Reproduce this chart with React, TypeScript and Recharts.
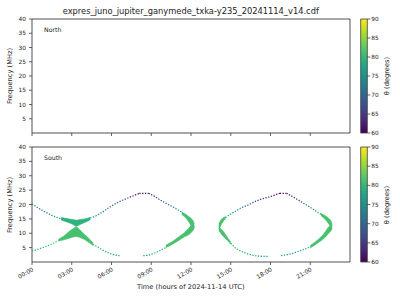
import React from 'react';
import { ComposedChart, Line, Area, XAxis, YAxis, ReferenceArea } from 'recharts';

const FONT = '"DejaVu Sans", sans-serif';
const INK = '#222222';
const EDGE = '#3c3c3c';

const title = 'expres_juno_jupiter_ganymede_txka-y235_20241114_v14.cdf';
const hourTicks = [0, 3, 6, 9, 12, 15, 18, 21];
const hourRange = [0, 24];
const freqRange = [0, 40];
const freqTicks = [5, 10, 15, 20, 25, 30, 35, 40];
const thetaRange = [60, 90];
const thetaTicks = [60, 65, 70, 75, 80, 85, 90];
const viridis = ['#440154', '#482475', '#414487', '#355f8d', '#2a788e', '#21918c', '#22a884', '#44bf70', '#7ad151', '#bddf26', '#fde725'];

// thin dotted tracks, [hour, MHz], and theta (deg) along each one
const upperLeft = [[0, 20.2], [0.5, 18.7], [1.0, 17.4], [1.5, 16.2], [2.0, 15.3], [2.2, 15.0]];
const upperLeftTh = [71, 74, 77];
const upperRise = [[4.4, 15.3], [4.8, 16.0], [5.3, 17.3], [5.8, 18.9], [6.3, 20.3], [6.8, 21.4], [7.3, 22.4], [7.7, 23.1], [8.1, 23.9]];
const upperRiseTh = [77, 72.5, 67.5, 61];
const peak1 = [[8.1, 23.9], [8.8, 23.9]];
const peak1Th = [60.5];
const upperFall = [[8.8, 23.9], [9.2, 23.0], [9.7, 21.5], [10.2, 20.2], [10.7, 19.0], [11.1, 17.9], [11.4, 16.9]];
const upperFallTh = [61, 67, 72, 77];
const lowerLeft = [[0, 3.8], [0.5, 4.5], [1.0, 5.3], [1.5, 6.3], [2.0, 7.5]];
const lowerLeftTh = [79, 81];
const lowerDrop = [[4.6, 6.2], [5.0, 5.1], [5.4, 4.0], [5.8, 3.1], [6.2, 2.5], [6.6, 2.2]];
const lowerDropTh = [81, 78, 76];
const lowerRise = [[8.4, 2.2], [8.8, 2.4], [9.2, 3.0], [9.6, 3.8], [10.1, 5.0]];
const lowerRiseTh = [76, 78, 80];

const rUpperRise = [[14.6, 15.4], [14.8, 16.1], [15.3, 17.5], [15.8, 18.9], [16.3, 19.8], [16.8, 21.0], [17.3, 21.9], [17.8, 22.5], [18.1, 22.9], [18.45, 23.5], [18.7, 23.9]];
const rUpperRiseTh = [77, 72, 64, 60.5];
const peak2 = [[18.7, 23.9], [19.2, 23.9]];
const peak2Th = [60];
const rUpperFall = [[19.2, 23.9], [19.45, 23.3], [19.8, 22.4], [20.3, 21.0], [20.8, 19.6], [21.3, 18.1], [21.8, 16.6]];
const rUpperFallTh = [61, 66, 72, 77];
const rLowerDrop = [[15.0, 6.5], [15.4, 4.6], [15.8, 3.7], [16.2, 2.9], [16.7, 2.3], [17.2, 2.0], [17.9, 1.9]];
const rLowerDropTh = [81, 78, 76];
const rLowerRise = [[18.8, 2.2], [19.2, 2.5], [19.6, 2.9], [20.1, 3.7], [20.6, 4.5], [21.0, 5.3]];
const rLowerRiseTh = [76, 78, 80];

// dense emission, [hour, low MHz, high MHz]
const xUpperBand = [[2.2, 14.6, 15.5], [2.6, 14.0, 15.1], [3.0, 13.3, 14.8], [3.35, 12.4, 14.5], [3.7, 13.2, 14.8], [4.0, 13.8, 15.0], [4.4, 14.7, 15.5]];
const xLowerBand = [[2.0, 7.3, 7.9], [2.4, 7.7, 9.0], [2.8, 8.3, 10.6], [3.1, 8.7, 11.6], [3.35, 8.9, 12.3], [3.6, 8.6, 11.2], [3.9, 8.0, 9.8], [4.2, 7.1, 8.6], [4.6, 5.8, 6.7]];
const lTipUpper = [[11.3, 16.6, 17.3], [11.6, 15.4, 16.6], [11.8, 14.2, 15.9], [12.0, 12.8, 15.2], [12.15, 12.0, 14.4], [12.25, 12.0, 13.3]];
const lTipLower = [[10.1, 5.0, 5.8], [10.6, 6.2, 7.1], [11.1, 7.6, 8.8], [11.5, 8.8, 10.2], [11.8, 9.4, 11.6], [12.0, 10.2, 12.8], [12.15, 11.0, 12.6], [12.25, 11.8, 12.6]];
const rTipLeftUpper = [[14.1, 11.6, 13.4], [14.2, 12.2, 14.2], [14.3, 13.2, 14.9], [14.45, 14.3, 15.4], [14.6, 15.0, 15.8]];
const rTipLeftLower = [[14.1, 10.9, 12.6], [14.2, 10.4, 11.8], [14.3, 9.6, 11.2], [14.45, 8.9, 10.6], [14.6, 8.2, 9.6], [14.8, 7.3, 8.2], [15.0, 6.2, 6.9]];
const rTipRightUpper = [[21.8, 16.2, 16.9], [22.1, 15.0, 16.2], [22.35, 13.6, 15.4], [22.55, 12.2, 14.4], [22.65, 11.8, 13.0]];
const rTipRightLower = [[21.0, 4.9, 5.7], [21.35, 5.9, 6.9], [21.6, 6.7, 7.8], [21.9, 7.7, 9.1], [22.15, 8.7, 10.6], [22.35, 9.8, 12.0], [22.55, 10.8, 12.8], [22.65, 11.6, 12.6]];

const BAND = '#48c16e';
const BAND_TEAL = '#2db27d';

const tracks = [
  { id: 'ul', pts: upperLeft, th: upperLeftTh },
  { id: 'ur', pts: upperRise, th: upperRiseTh },
  { id: 'p1', pts: peak1, th: peak1Th },
  { id: 'uf', pts: upperFall, th: upperFallTh },
  { id: 'll', pts: lowerLeft, th: lowerLeftTh },
  { id: 'ld', pts: lowerDrop, th: lowerDropTh },
  { id: 'lr', pts: lowerRise, th: lowerRiseTh },
  { id: 'rur', pts: rUpperRise, th: rUpperRiseTh },
  { id: 'p2', pts: peak2, th: peak2Th },
  { id: 'ruf', pts: rUpperFall, th: rUpperFallTh },
  { id: 'rld', pts: rLowerDrop, th: rLowerDropTh },
  { id: 'rlr', pts: rLowerRise, th: rLowerRiseTh },
];

const bands = [
  { id: 'xu', pts: xUpperBand, color: BAND_TEAL },
  { id: 'xl', pts: xLowerBand, color: BAND },
  { id: 'ltu', pts: lTipUpper, color: BAND },
  { id: 'ltl', pts: lTipLower, color: BAND },
  { id: 'rlu', pts: rTipLeftUpper, color: BAND },
  { id: 'rll', pts: rTipLeftLower, color: BAND },
  { id: 'rru', pts: rTipRightUpper, color: BAND },
  { id: 'rrl', pts: rTipRightLower, color: BAND },
];

function hexRgb(h: string) {
  return [1, 3, 5].map((i) => parseInt(h.slice(i, i + 2), 16));
}

function thetaColor(th: number) {
  const p = Math.min(1, Math.max(0, (th - 60) / 30)) * 10;
  const i = Math.min(9, Math.floor(p));
  const f = p - i;
  const a = hexRgb(viridis[i]);
  const b = hexRgb(viridis[i + 1]);
  const c = a.map((v, k) => Math.round(v + (b[k] - v) * f));
  return `rgb(${c[0]},${c[1]},${c[2]})`;
}

const tickStyle = { fontSize: 5.8, fill: INK, fontFamily: FONT };
const tickLine = { stroke: EDGE, strokeWidth: 0.8 };

// axis extents only, so the charts lay out their axes even with no marks
const panelExtent = hourRange.map((t, i) => ({ t, f: freqRange[i] }));
const barExtent = thetaRange.map((v, i) => ({ x: i, v }));

function Panel({ top, height, mt, xh, labels, children }: any) {
  return (
    <div style={{ position: 'absolute', left: 0, top }}>
      <ComposedChart width={360} height={height} data={panelExtent} margin={{ top: mt, right: 10, bottom: 0, left: 0 }}>
        {children}
        <XAxis
          dataKey="t"
          type="number"
          domain={hourRange}
          ticks={hourTicks}
          interval={0}
          height={xh}
          axisLine={false}
          tickLine={tickLine}
          tickSize={3}
          tickMargin={2}
          angle={-30}
          tick={{ ...tickStyle, textAnchor: 'end' }}
          tickFormatter={(v: number) => (labels ? `${String(v).padStart(2, '0')}:00` : '')}
        />
        <YAxis
          dataKey="f"
          type="number"
          domain={freqRange}
          ticks={freqTicks}
          interval={0}
          width={32}
          axisLine={false}
          tickLine={tickLine}
          tickSize={3}
          tickMargin={3}
          tick={tickStyle}
        />
        <ReferenceArea x1={0} x2={24} y1={0} y2={40} fill="none" stroke={EDGE} strokeWidth={0.9} ifOverflow="visible" />
      </ComposedChart>
    </div>
  );
}

function ColorBar({ top, height, mt, mb, id }: any) {
  return (
    <div style={{ position: 'absolute', left: 355, top }}>
      <ComposedChart width={45} height={height} data={barExtent} margin={{ top: mt, right: 0, bottom: mb, left: 5.7 }}>
        <defs>
          <linearGradient id={id} x1="0" y1="1" x2="0" y2="0">
            {viridis.map((c, i) => (
              <stop key={i} offset={i / 10} stopColor={c} />
            ))}
          </linearGradient>
        </defs>
        <XAxis type="number" dataKey="x" domain={[0, 1]} hide />
        <YAxis
          dataKey="v"
          orientation="right"
          type="number"
          domain={thetaRange}
          ticks={thetaTicks}
          interval={0}
          width={32.7}
          axisLine={false}
          tickLine={tickLine}
          tickSize={3}
          tickMargin={1}
          tick={tickStyle}
        />
        <ReferenceArea x1={0} x2={1} y1={60} y2={90} fill={`url(#${id})`} fillOpacity={1} stroke={EDGE} strokeWidth={0.8} ifOverflow="visible" />
      </ComposedChart>
    </div>
  );
}

const textBase: React.CSSProperties = { position: 'absolute', fontFamily: FONT, color: INK, whiteSpace: 'nowrap' };

function Rotated({ x, y, text }: any) {
  return (
    <div style={{ ...textBase, left: x, top: y, fontSize: 6.7, lineHeight: '8px', transform: 'translate(-50%, -50%) rotate(-90deg)' }}>
      {text}
    </div>
  );
}

export default function App() {
  return (
    <div style={{ position: 'absolute', left: 0, top: 0, width: 400, height: 300, background: '#fff', overflow: 'hidden' }}>
      <div style={{ ...textBase, left: 0, top: 6, width: 381.6, textAlign: 'center', fontSize: 8.3, lineHeight: '10px' }}>{title}</div>

      <Panel top={0} height={140} mt={19} xh={7} labels={false} />

      <Panel top={140} height={160} mt={7} xh={38} labels={true}>
        <defs>
          {tracks
            .filter((tr) => tr.th.length > 1)
            .map((tr) => (
              <linearGradient key={tr.id} id={`g-${tr.id}`} x1="0" y1="0" x2="1" y2="0">
                {tr.th.map((th, i) => (
                  <stop key={i} offset={i / (tr.th.length - 1)} stopColor={thetaColor(th)} />
                ))}
              </linearGradient>
            ))}
        </defs>
        {bands.map((b) => (
          <Area
            key={b.id}
            data={b.pts.map(([t, lo, hi]) => ({ t, r: [lo, hi] }))}
            dataKey="r"
            type="linear"
            fill={b.color}
            fillOpacity={1}
            stroke={b.color}
            strokeWidth={0.7}
            dot={false}
            activeDot={false}
            isAnimationActive={false}
          />
        ))}
        {tracks.map((tr) => (
          <Line
            key={tr.id}
            data={tr.pts.map(([t, f]) => ({ t, f }))}
            dataKey="f"
            type="linear"
            stroke={tr.th.length > 1 ? `url(#g-${tr.id})` : thetaColor(tr.th[0])}
            strokeWidth={1.3}
            strokeDasharray="1.3 1.5"
            dot={false}
            activeDot={false}
            isAnimationActive={false}
          />
        ))}
      </Panel>

      <ColorBar top={0} height={140} mt={19} mb={7} id="cbTop" />
      <ColorBar top={140} height={160} mt={7} mb={38} id="cbBottom" />

      <div style={{ ...textBase, left: 44, top: 25.5, fontSize: 6.2, lineHeight: '8px' }}>North</div>
      <div style={{ ...textBase, left: 44, top: 154, fontSize: 6.2, lineHeight: '8px' }}>South</div>

      <Rotated x={10} y={76} text="Frequency (MHz)" />
      <Rotated x={10} y={204.5} text="Frequency (MHz)" />
      <Rotated x={386.7} y={76} text="θ (degrees)" />
      <Rotated x={386.7} y={204.5} text="θ (degrees)" />

      <div style={{ ...textBase, left: 0, top: 283, width: 381.6, textAlign: 'center', fontSize: 6.7, lineHeight: '8px' }}>
        Time (hours of 2024-11-14 UTC)
      </div>
    </div>
  );
}
